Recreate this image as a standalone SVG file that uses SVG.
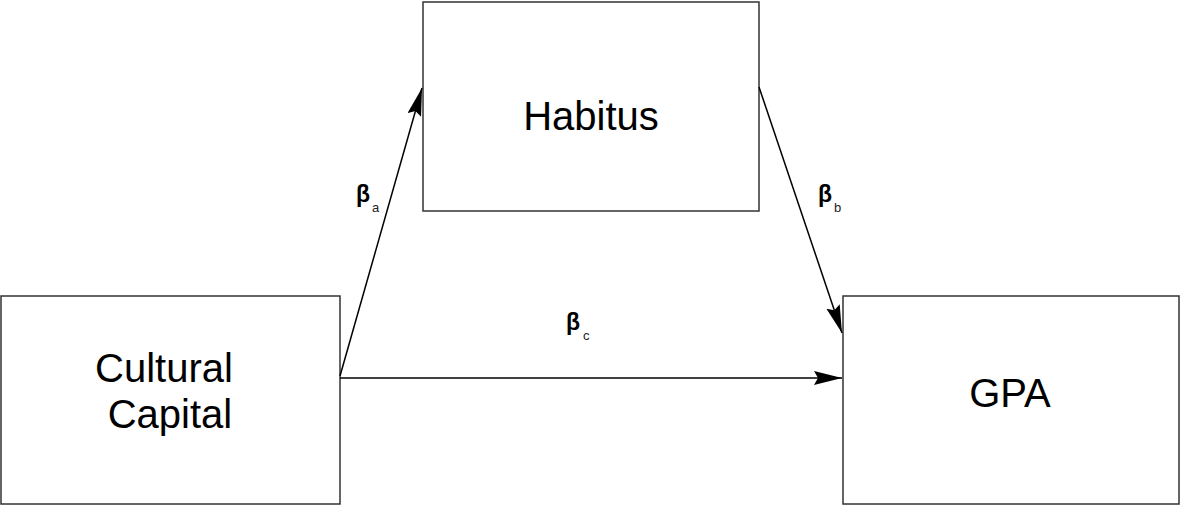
<svg xmlns="http://www.w3.org/2000/svg" width="1180" height="505" viewBox="0 0 1180 505">
<style>
.box{fill:#fff;stroke:#333;stroke-width:1.5}
.lbl{font-family:"Liberation Sans",Arial,sans-serif;font-size:40px;fill:#000;text-anchor:middle}
.conn{stroke:#000;stroke-width:1.5;fill:none}
.beta{font-family:"Liberation Sans",Arial,sans-serif;font-size:23px;font-weight:bold;fill:#000}
.sub{font-family:"Liberation Sans",Arial,sans-serif;font-size:13px;font-weight:normal;fill:#222}
</style>
<defs>
<marker id="ah" markerUnits="userSpaceOnUse" markerWidth="30" markerHeight="16" refX="28" refY="7" orient="auto">
<path d="M0,0 L28,7 L0,14 L4,7 Z" fill="#000"/>
</marker>
</defs>
<rect width="1180" height="505" fill="#fff"/>
<g id="node-habitus">
<rect class="box" x="423" y="2" width="336" height="209"/>
<text class="lbl" x="591" y="130">Habitus</text>
</g>
<g id="node-cultural">
<rect class="box" x="1" y="296" width="339" height="208"/>
<text class="lbl" x="164" y="382">Cultural</text>
<text class="lbl" x="170" y="428">Capital</text>
</g>
<g id="node-gpa">
<rect class="box" x="843" y="296" width="336" height="208"/>
<text class="lbl" x="1010" y="407">GPA</text>
</g>
<g id="connectors">
<line class="conn" x1="340" y1="376" x2="422" y2="88" marker-end="url(#ah)"/>
<line class="conn" x1="759" y1="87" x2="842" y2="333" marker-end="url(#ah)"/>
<line class="conn" x1="340" y1="378" x2="842" y2="378" marker-end="url(#ah)"/>
</g>
<g id="labels">
<text class="beta" x="356" y="202">β<tspan class="sub" dx="2" dy="10">a</tspan></text>
<text class="beta" x="818" y="202">β<tspan class="sub" dx="2" dy="10">b</tspan></text>
<text class="beta" x="566" y="330">β<tspan class="sub" dx="3" dy="10">c</tspan></text>
</g>
</svg>
